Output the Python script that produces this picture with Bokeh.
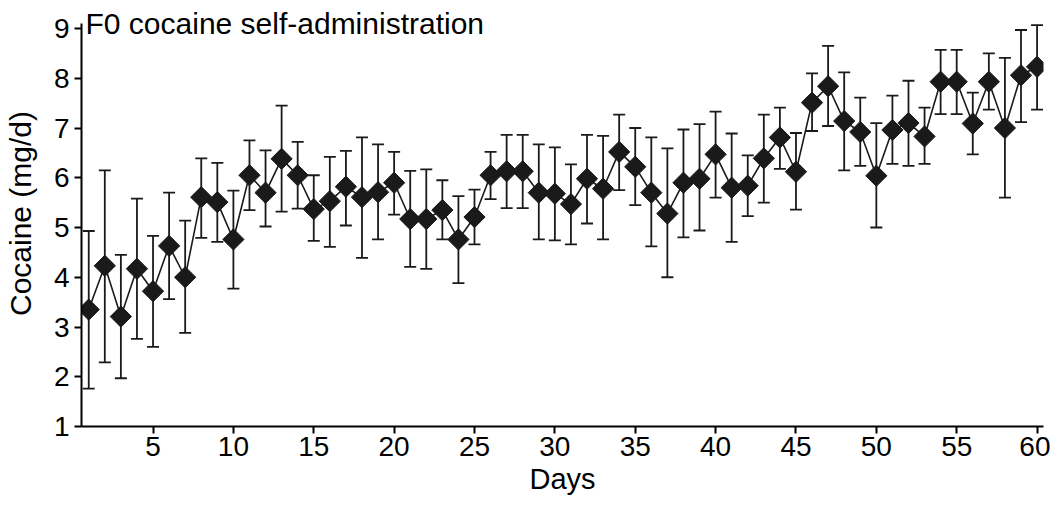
import math
from bokeh.plotting import figure
from bokeh.models import ColumnDataSource, Whisker, TeeHead, FixedTicker, Label, Range1d
from bokeh.embed import file_html
from bokeh.resources import INLINE

days = list(range(1, 61))
cocaine_mean = [3.35, 4.23, 3.21, 4.17, 3.72, 4.63, 4.00, 5.61, 5.51, 4.76,
                6.05, 5.70, 6.38, 6.05, 5.37, 5.53, 5.82, 5.61, 5.71, 5.90,
                5.17, 5.17, 5.35, 4.76, 5.21, 6.05, 6.13, 6.13, 5.70, 5.68,
                5.47, 5.98, 5.78, 6.52, 6.22, 5.70, 5.28, 5.90, 5.98, 6.47,
                5.80, 5.84, 6.39, 6.81, 6.12, 7.51, 7.84, 7.14, 6.92, 6.04,
                6.96, 7.10, 6.83, 7.93, 7.93, 7.09, 7.93, 7.00, 8.06, 8.23]
cocaine_upper = [4.93, 6.15, 4.45, 5.58, 4.83, 5.70, 5.14, 6.39, 6.30, 5.74,
                 6.75, 6.55, 7.45, 6.72, 6.05, 6.42, 6.54, 6.81, 6.67, 6.52,
                 6.14, 6.17, 5.95, 5.63, 5.76, 6.52, 6.86, 6.86, 6.67, 6.61,
                 6.27, 6.86, 6.84, 7.27, 7.00, 6.81, 6.59, 6.97, 7.08, 7.33,
                 6.89, 6.45, 7.27, 7.41, 6.90, 8.10, 8.65, 8.12, 7.61, 7.10,
                 7.65, 7.95, 7.41, 8.57, 8.57, 7.71, 8.50, 8.41, 8.97, 9.07]
cocaine_lower = [1.76, 2.29, 1.97, 2.76, 2.60, 3.56, 2.88, 4.79, 4.71, 3.77,
                 5.35, 5.02, 5.32, 5.38, 4.73, 4.61, 5.04, 4.39, 4.76, 5.26,
                 4.21, 4.17, 4.76, 3.88, 4.66, 5.57, 5.39, 5.39, 4.76, 4.74,
                 4.66, 5.08, 4.76, 5.75, 5.45, 4.62, 4.00, 4.80, 4.94, 5.60,
                 4.71, 5.23, 5.50, 6.18, 5.36, 6.94, 7.04, 6.15, 6.24, 5.00,
                 6.28, 6.24, 6.28, 7.28, 7.28, 6.47, 7.37, 5.60, 7.12, 7.37]
x_ticks = [5, 10, 15, 20, 25, 30, 35, 40, 45, 50, 55, 60]
y_ticks = [1, 2, 3, 4, 5, 6, 7, 8, 9]
title_text = "F0 cocaine self-administration"
x_label = "Days"
y_label = "Cocaine (mg/d)"

FONT = "Liberation Sans"
INK = "#1a1a1a"

src = ColumnDataSource(dict(day=days, mean=cocaine_mean,
                            upper=cocaine_upper, lower=cocaine_lower))

p = figure(width=1050, height=505, output_backend="svg", toolbar_location=None,
           x_range=Range1d(0.55, 60.4), y_range=Range1d(1, 9.563),
           min_border_left=76, min_border_right=7, min_border_top=0,
           min_border_bottom=79)
p.outline_line_color = None
p.grid.visible = False
p.background_fill_color = "white"
p.border_fill_color = "white"

w = Whisker(source=src, base="day", upper="upper", lower="lower",
            line_color=INK, line_width=1.8,
            upper_head=TeeHead(size=12, line_color=INK, line_width=1.8),
            lower_head=TeeHead(size=12, line_color=INK, line_width=1.8))
p.add_layout(w)

p.line("day", "mean", source=src, line_color=INK, line_width=1.6)
p.scatter("day", "mean", source=src, marker="square", size=15, angle=math.pi / 4,
          fill_color=INK, line_color=INK)

for ax in (p.xaxis[0], p.yaxis[0]):
    ax.axis_line_color = "black"
    ax.axis_line_width = 2
    ax.major_tick_line_color = "black"
    ax.major_tick_line_width = 2
    ax.major_tick_out = 7
    ax.major_tick_in = 0
    ax.minor_tick_line_color = None
    ax.major_label_text_font = FONT
    ax.major_label_text_font_size = "28px"
    ax.major_label_text_color = "black"
    ax.axis_label_text_font = FONT
    ax.axis_label_text_font_style = "normal"
    ax.axis_label_text_color = "black"

p.xaxis[0].axis_label_text_font_size = "29px"
p.yaxis[0].axis_label_text_font_size = "30px"
p.xaxis[0].ticker = FixedTicker(ticks=x_ticks)
p.yaxis[0].ticker = FixedTicker(ticks=y_ticks)
p.yaxis[0].bounds = (1, 9.1)
p.xaxis[0].axis_label = x_label
p.yaxis[0].axis_label = y_label
p.xaxis[0].major_label_standoff = 3
p.xaxis[0].axis_label_standoff = 4
p.yaxis[0].major_label_standoff = 5
p.yaxis[0].axis_label_standoff = 14

title = Label(x=4, x_units="screen", y=9.1, y_units="data",
              text=title_text, text_font=FONT, text_font_size="30px",
              text_color="black", text_baseline="alphabetic", text_align="left")
p.add_layout(title)

open("out.html", "w").write(file_html(p, INLINE))
